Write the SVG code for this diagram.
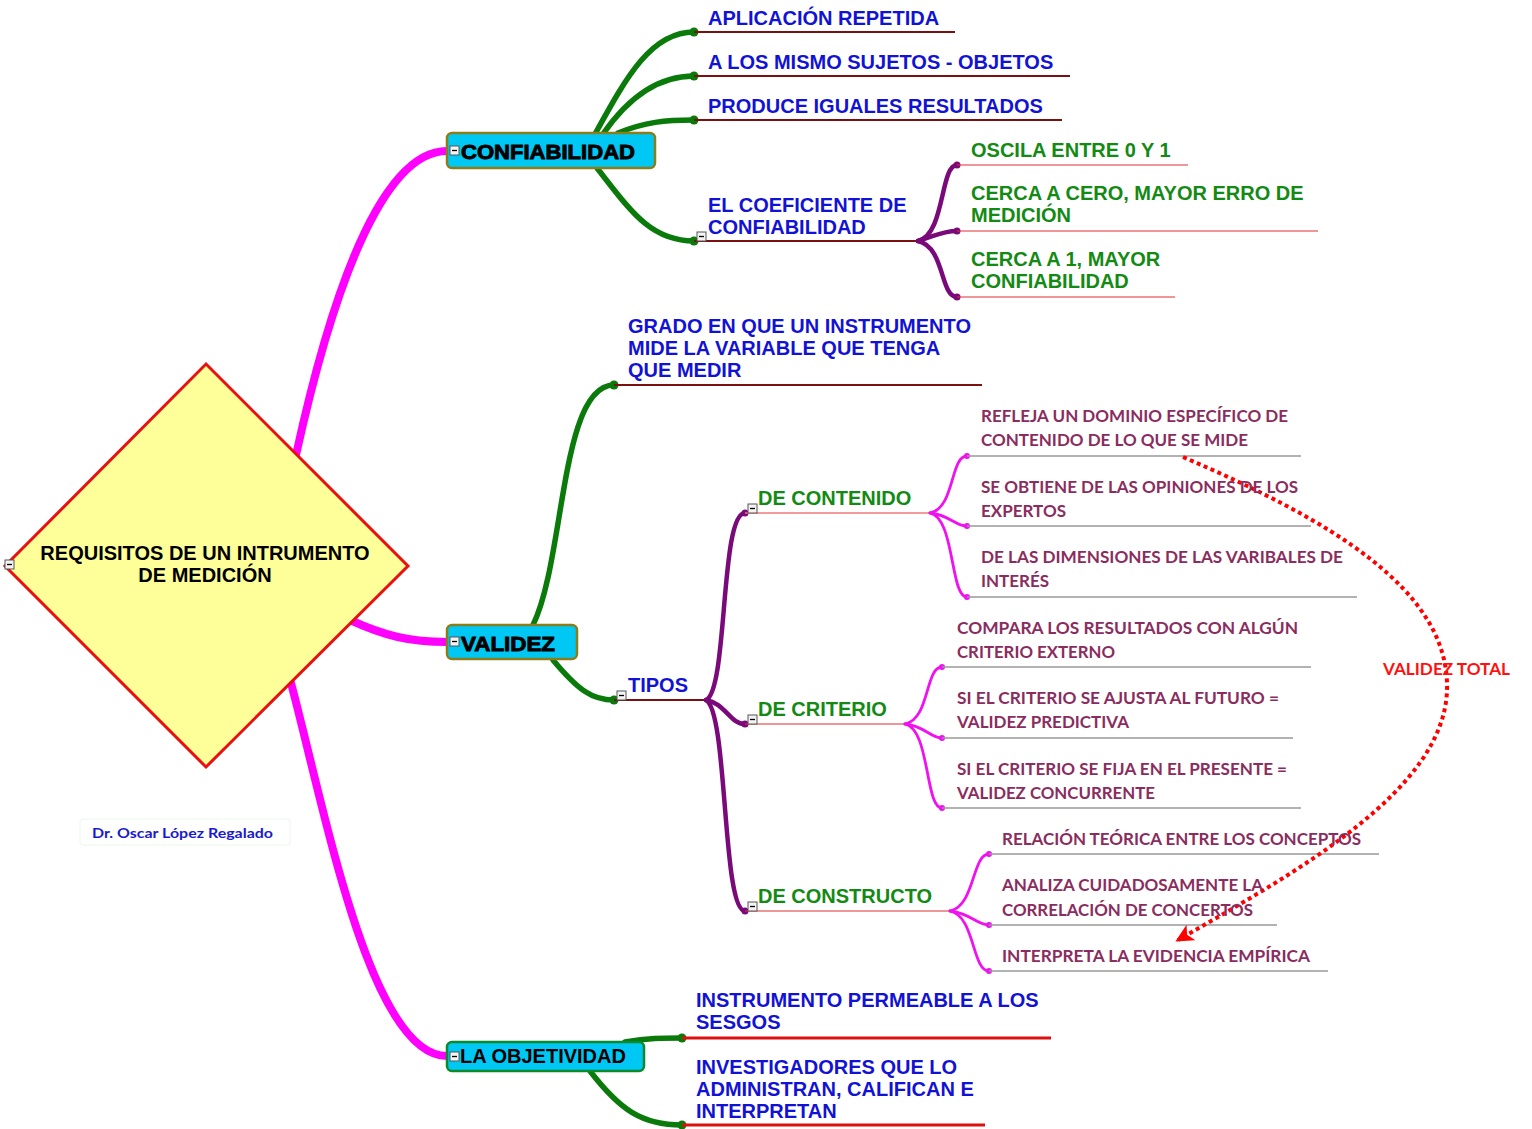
<svg xmlns="http://www.w3.org/2000/svg" xmlns:xlink="http://www.w3.org/1999/xlink" width="1532" height="1129" viewBox="0 0 1532 1129">
<style>
.bg{fill:#ffffff}
.t{font-family:"Liberation Sans",Arial,sans-serif;font-weight:bold;font-size:20px}
.blue{fill:#1212D6}
.green{fill:#138A13}
.main{fill:#000;stroke:#000;stroke-width:0.9px}
.cal{font-family:Lato,"Open Sans",sans-serif;font-weight:bold;font-size:17px;fill:#8A2C5E}
.mag{fill:none;stroke:#FF00FF;stroke-width:8;stroke-linecap:round}
.gr{fill:none;stroke:#0A7A0A;stroke-width:5.5;stroke-linecap:round}
.pu{fill:none;stroke:#7A0A7A;stroke-width:4.5;stroke-linecap:round}
.mg{fill:none;stroke:#F010F0;stroke-width:2.8;stroke-linecap:round}
.ul1{stroke:#7A1010;stroke-width:2}
.ul2{stroke:#E03030;stroke-width:1.2}
.ul3{stroke:#999999;stroke-width:1.3}
.ul4{stroke:#DD1010;stroke-width:3}
.dg{fill:#0A7A0A}
.dp{fill:#7A0A7A}
.dm{fill:#F010F0}
.box{fill:#00C8F5;stroke:#8B7D1A;stroke-width:2.5}
</style>
<defs>
<g id="minus"><rect x="0" y="0" width="9" height="9" fill="#f4f4f4" stroke="#555" stroke-width="1"/><line x1="2" y1="4.5" x2="7" y2="4.5" stroke="#000" stroke-width="1.3"/></g>
<marker id="arr" viewBox="0 0 12 12" refX="10" refY="6" markerWidth="4.5" markerHeight="4.5" orient="auto" markerUnits="strokeWidth">
<path d="M0,0 L12,6 L0,12 L3,6 Z" fill="#FF0000"/>
</marker>
</defs>
<rect class="bg" x="0" y="0" width="1532" height="1129"/>

<g id="connectors">
<path class="mag" d="M 296 455 C 330 300, 380 151, 447 151"/>
<path class="mag" d="M 350 620 C 385 636, 410 642, 447 642"/>
<path class="mag" d="M 291 683 C 325 810, 370 1056, 447 1056"/>

<path class="gr" d="M 595 134 C 625 80, 650 32, 694 32"/>
<path class="gr" d="M 603 134 C 630 95, 660 76, 694 76"/>
<path class="gr" d="M 618 133 C 645 122, 665 120, 694 120"/>
<path class="gr" d="M 597 168 C 630 210, 650 241, 694 241"/>
<circle class="dg" cx="694" cy="32" r="4.5"/><circle class="dg" cx="694" cy="76" r="4.5"/><circle class="dg" cx="694" cy="120" r="4.5"/><circle class="dg" cx="694" cy="241" r="4.5"/>
<line class="ul1" x1="694" y1="32" x2="955" y2="32"/>
<line class="ul1" x1="694" y1="76" x2="1070" y2="76"/>
<line class="ul1" x1="694" y1="120" x2="1062" y2="120"/>
<line class="ul1" x1="694" y1="241" x2="920" y2="241"/>

<path class="pu" d="M 918 241 C 945 235, 940 165, 957 165"/>
<path class="pu" d="M 918 241 C 935 236, 942 231, 957 231"/>
<path class="pu" d="M 918 241 C 945 247, 940 297, 957 297"/>
<circle class="dp" cx="957" cy="165" r="3.5"/><circle class="dp" cx="957" cy="231" r="3.5"/><circle class="dp" cx="957" cy="297" r="3.5"/>
<line class="ul2" x1="957" y1="165" x2="1188" y2="165"/>
<line class="ul2" x1="957" y1="231" x2="1318" y2="231"/>
<line class="ul2" x1="957" y1="297" x2="1175" y2="297"/>

<path class="gr" d="M 533 625 C 565 560, 560 385, 614 385"/>
<circle class="dg" cx="614" cy="385" r="4.5"/>
<line class="ul1" x1="614" y1="385" x2="982" y2="385"/>
<path class="gr" d="M 553 660 C 578 690, 592 700, 614 700"/>
<circle class="dg" cx="614" cy="700" r="4.5"/>
<line class="ul1" x1="614" y1="700" x2="707" y2="700"/>

<path class="pu" d="M 706 700 C 728 690, 720 513, 745 513"/>
<path class="pu" d="M 706 700 C 725 703, 730 724, 745 724"/>
<path class="pu" d="M 706 700 C 728 712, 722 911, 745 911"/>
<circle class="dp" cx="745" cy="513" r="3.5"/><circle class="dp" cx="745" cy="724" r="3.5"/><circle class="dp" cx="745" cy="911" r="3.5"/>
<line stroke="#F07878" stroke-width="1.5" x1="745" y1="513" x2="931" y2="513"/>
<line class="ul2" x1="745" y1="724" x2="906" y2="724"/>
<line class="ul2" x1="745" y1="911" x2="951" y2="911"/>

<path class="mg" d="M 930 513 C 955 508, 950 456, 967 456"/>
<path class="mg" d="M 930 513 C 950 515, 955 526, 967 526"/>
<path class="mg" d="M 930 513 C 955 518, 950 597, 967 597"/>
<circle class="dm" cx="967" cy="456" r="3"/><circle class="dm" cx="967" cy="526" r="3"/><circle class="dm" cx="967" cy="597" r="3"/>
<line class="ul3" x1="967" y1="456" x2="1301" y2="456"/>
<line class="ul3" x1="967" y1="526" x2="1311" y2="526"/>
<line class="ul3" x1="967" y1="597" x2="1357" y2="597"/>

<path class="mg" d="M 905 724 C 930 719, 925 667, 942 667"/>
<path class="mg" d="M 905 724 C 925 726, 930 738, 942 738"/>
<path class="mg" d="M 905 724 C 930 729, 925 808, 942 808"/>
<circle class="dm" cx="942" cy="667" r="3"/><circle class="dm" cx="942" cy="738" r="3"/><circle class="dm" cx="942" cy="808" r="3"/>
<line class="ul3" x1="942" y1="667" x2="1311" y2="667"/>
<line class="ul3" x1="942" y1="738" x2="1293" y2="738"/>
<line class="ul3" x1="942" y1="808" x2="1301" y2="808"/>

<path class="mg" d="M 950 911 C 975 906, 972 854, 989 854"/>
<path class="mg" d="M 950 911 C 970 913, 977 925, 989 925"/>
<path class="mg" d="M 950 911 C 975 916, 972 971, 989 971"/>
<circle class="dm" cx="989" cy="854" r="3"/><circle class="dm" cx="989" cy="925" r="3"/><circle class="dm" cx="989" cy="971" r="3"/>
<line class="ul3" x1="989" y1="854" x2="1379" y2="854"/>
<line class="ul3" x1="989" y1="925" x2="1277" y2="925"/>
<line class="ul3" x1="989" y1="971" x2="1328" y2="971"/>

<path class="gr" d="M 625 1042 C 648 1038, 662 1038, 682 1038"/>
<path class="gr" d="M 590 1071 C 620 1110, 642 1125, 682 1125"/>
<circle class="dg" cx="682" cy="1038" r="4.5"/><circle class="dg" cx="682" cy="1125" r="4.5"/>
<line class="ul4" x1="682" y1="1038" x2="1051" y2="1038"/>
<line class="ul4" x1="682" y1="1125" x2="985" y2="1125"/>

<path d="M 1183 457 C 1330 520, 1450 590, 1447 690 C 1444 790, 1300 870, 1178 940" fill="none" stroke="#FF0000" stroke-width="4" stroke-dasharray="4 3.5" marker-end="url(#arr)"/>
</g>

<g id="n-root">
<polygon points="206,364 408,566 206,767 5,566" fill="#FFFF99" stroke="#E81010" stroke-width="3"/>
<text class="t" x="205" y="560" text-anchor="middle" font-size="19" fill="#000">REQUISITOS DE UN INTRUMENTO</text>
<text class="t" x="205" y="582" text-anchor="middle" font-size="19" fill="#000">DE MEDICIÓN</text>
<use xlink:href="#minus" x="5" y="560"/>
</g>

<g id="n-author">
<rect x="80" y="819" width="210" height="26" rx="3" fill="#fff" stroke="#EAF6EA" stroke-width="1"/>
<text x="92" y="838" font-family="Lato,'Open Sans',sans-serif" font-weight="bold" font-size="14" fill="#1A1ACC" textLength="181" lengthAdjust="spacingAndGlyphs">Dr. Oscar López Regalado</text>
</g>

<g id="n-confiabilidad">
<rect class="box" x="447" y="133" width="208" height="35" rx="5"/>
<text class="t main" x="461" y="159" textLength="174" lengthAdjust="spacingAndGlyphs">CONFIABILIDAD</text>
<use xlink:href="#minus" x="450" y="146"/>
</g>
<g id="n-c1"><text class="t blue" x="708" y="25">APLICACIÓN REPETIDA</text></g>
<g id="n-c2"><text class="t blue" x="708" y="69">A LOS MISMO SUJETOS - OBJETOS</text></g>
<g id="n-c3"><text class="t blue" x="708" y="113">PRODUCE IGUALES RESULTADOS</text></g>
<g id="n-c4">
<text class="t blue" x="708" y="212">EL COEFICIENTE DE</text>
<text class="t blue" x="708" y="234">CONFIABILIDAD</text>
<use xlink:href="#minus" x="697" y="232"/>
</g>
<g id="n-c41"><text class="t green" x="971" y="157">OSCILA ENTRE 0 Y 1</text></g>
<g id="n-c42"><text class="t green" x="971" y="200">CERCA A CERO, MAYOR ERRO DE</text><text class="t green" x="971" y="222">MEDICIÓN</text></g>
<g id="n-c43"><text class="t green" x="971" y="266">CERCA A 1, MAYOR</text><text class="t green" x="971" y="288">CONFIABILIDAD</text></g>

<g id="n-validez">
<rect class="box" x="447" y="625" width="130" height="34" rx="5"/>
<text class="t main" x="461" y="651" textLength="94" lengthAdjust="spacingAndGlyphs">VALIDEZ</text>
<use xlink:href="#minus" x="450" y="637"/>
</g>
<g id="n-v1">
<text class="t blue" x="628" y="333">GRADO EN QUE UN INSTRUMENTO</text>
<text class="t blue" x="628" y="355">MIDE LA VARIABLE QUE TENGA</text>
<text class="t blue" x="628" y="377">QUE MEDIR</text>
</g>
<g id="n-tipos">
<text class="t blue" x="628" y="692">TIPOS</text>
<use xlink:href="#minus" x="617" y="691"/>
</g>
<g id="n-contenido"><text class="t green" x="758" y="505">DE CONTENIDO</text><use xlink:href="#minus" x="748" y="504"/></g>
<g id="n-criterio"><text class="t green" x="758" y="716">DE CRITERIO</text><use xlink:href="#minus" x="748" y="715"/></g>
<g id="n-constructo"><text class="t green" x="758" y="903">DE CONSTRUCTO</text><use xlink:href="#minus" x="748" y="902"/></g>

<g id="n-ct1"><text class="cal" x="981" y="422" textLength="307" lengthAdjust="spacingAndGlyphs">REFLEJA UN DOMINIO ESPECÍFICO DE</text><text class="cal" x="981" y="446" textLength="267" lengthAdjust="spacingAndGlyphs">CONTENIDO DE LO QUE SE MIDE</text></g>
<g id="n-ct2"><text class="cal" x="981" y="493" textLength="317" lengthAdjust="spacingAndGlyphs">SE OBTIENE DE LAS OPINIONES DE LOS</text><text class="cal" x="981" y="517" textLength="85" lengthAdjust="spacingAndGlyphs">EXPERTOS</text></g>
<g id="n-ct3"><text class="cal" x="981" y="563" textLength="362" lengthAdjust="spacingAndGlyphs">DE LAS DIMENSIONES DE LAS VARIBALES DE</text><text class="cal" x="981" y="587" textLength="68" lengthAdjust="spacingAndGlyphs">INTERÉS</text></g>
<g id="n-cr1"><text class="cal" x="957" y="634" textLength="341" lengthAdjust="spacingAndGlyphs">COMPARA LOS RESULTADOS CON ALGÚN</text><text class="cal" x="957" y="658" textLength="158" lengthAdjust="spacingAndGlyphs">CRITERIO EXTERNO</text></g>
<g id="n-cr2"><text class="cal" x="957" y="704" textLength="322" lengthAdjust="spacingAndGlyphs">SI EL CRITERIO SE AJUSTA AL FUTURO =</text><text class="cal" x="957" y="728" textLength="172" lengthAdjust="spacingAndGlyphs">VALIDEZ PREDICTIVA</text></g>
<g id="n-cr3"><text class="cal" x="957" y="775" textLength="330" lengthAdjust="spacingAndGlyphs">SI EL CRITERIO SE FIJA EN EL PRESENTE =</text><text class="cal" x="957" y="799" textLength="198" lengthAdjust="spacingAndGlyphs">VALIDEZ CONCURRENTE</text></g>
<g id="n-cs1"><text class="cal" x="1002" y="845" textLength="359" lengthAdjust="spacingAndGlyphs">RELACIÓN TEÓRICA ENTRE LOS CONCEPTOS</text></g>
<g id="n-cs2"><text class="cal" x="1002" y="891" textLength="261" lengthAdjust="spacingAndGlyphs">ANALIZA CUIDADOSAMENTE LA</text><text class="cal" x="1002" y="916" textLength="251" lengthAdjust="spacingAndGlyphs">CORRELACIÓN DE CONCERTOS</text></g>
<g id="n-cs3"><text class="cal" x="1002" y="962" textLength="308" lengthAdjust="spacingAndGlyphs">INTERPRETA LA EVIDENCIA EMPÍRICA</text></g>

<g id="n-objetividad">
<rect x="447" y="1042" width="197" height="29" rx="5" fill="#00C8F5" stroke="#0A8A2A" stroke-width="2.5"/>
<text class="t" x="460" y="1063" fill="#000">LA OBJETIVIDAD</text>
<use xlink:href="#minus" x="450" y="1052"/>
</g>
<g id="n-o1"><text class="t blue" x="696" y="1007">INSTRUMENTO PERMEABLE A LOS</text><text class="t blue" x="696" y="1029">SESGOS</text></g>
<g id="n-o2"><text class="t blue" x="696" y="1074">INVESTIGADORES QUE LO</text><text class="t blue" x="696" y="1096">ADMINISTRAN, CALIFICAN E</text><text class="t blue" x="696" y="1118">INTERPRETAN</text></g>

<g id="n-validez-total"><text x="1383" y="675" font-family="Lato,'Open Sans',sans-serif" font-weight="bold" font-size="17" fill="#FF1010" textLength="127" lengthAdjust="spacingAndGlyphs">VALIDEZ TOTAL</text></g>
</svg>
